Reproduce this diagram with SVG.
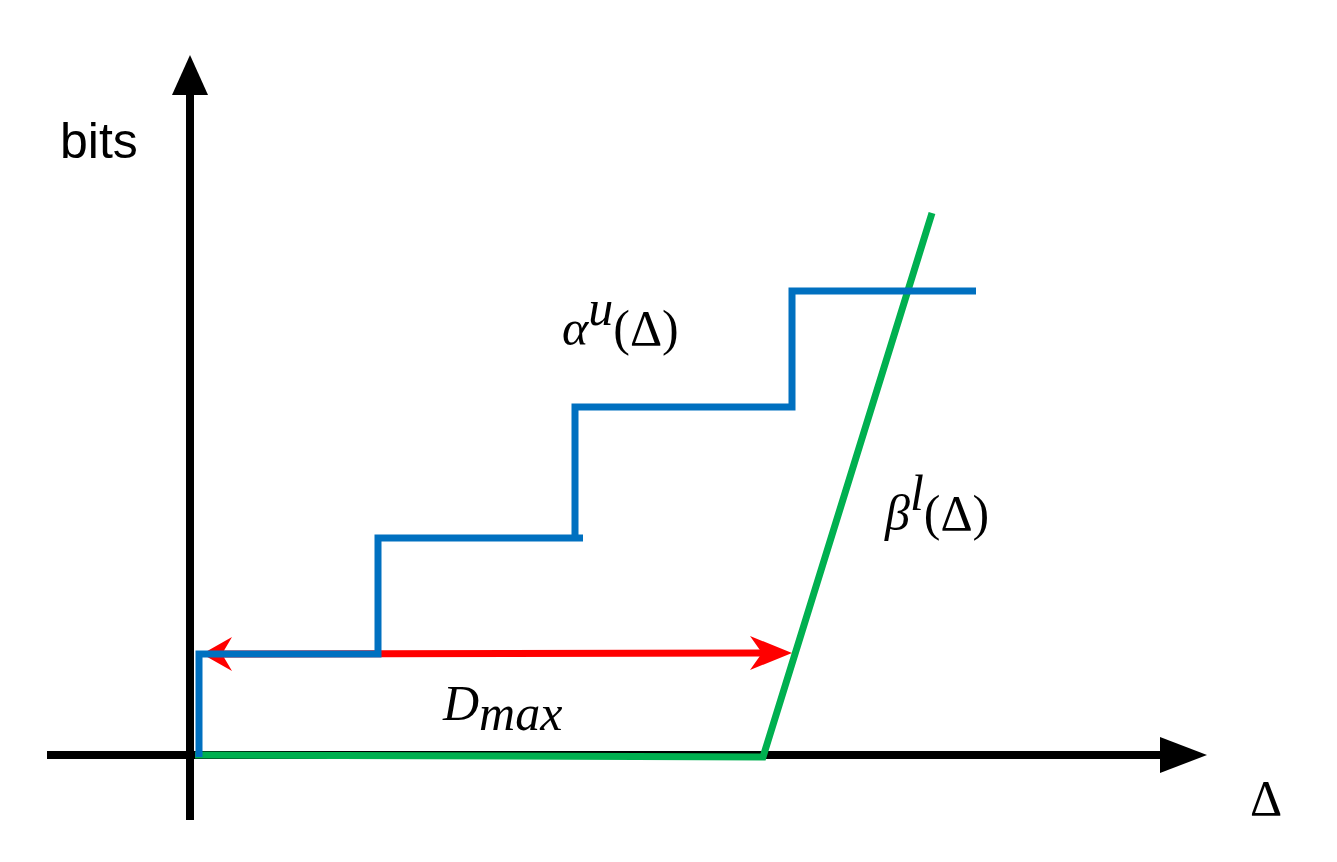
<svg xmlns="http://www.w3.org/2000/svg" width="1337" height="862" viewBox="0 0 1337 862">
<style>
.ax{stroke:#000;stroke-width:8;fill:none}
.bl{stroke:#0070C0;stroke-width:7;fill:none}
.gr{stroke:#00B050;stroke-width:7;fill:none}
.m{font-family:"Liberation Serif",serif;font-style:italic;font-size:50px;fill:#000}
.r{font-family:"Liberation Serif",serif;font-size:50px;fill:#000}
.s{font-family:"Liberation Sans",sans-serif;font-size:50px;fill:#000}
</style>
<g id="axes">
<line class="ax" x1="190" y1="820" x2="190" y2="90"/>
<polygon points="190,55 172,95 208,95" fill="#000"/>
<line class="ax" x1="47" y1="755" x2="1170" y2="755"/>
<polygon points="1207,755 1160,737 1160,773" fill="#000"/>
</g>
<g id="connectors">
<polyline class="gr" points="195,755 763,757 932,213"/>
<line x1="215" y1="654" x2="780" y2="653" stroke="#FF0000" stroke-width="7"/>
<polygon points="202,654 232,637 222,654 232,671" fill="#FF0000"/>
<polygon points="792,653 750,636 762,653 750,670" fill="#FF0000"/>
<polyline class="bl" points="199,757 199,654 378,654 378,538 583,538"/>
<polyline class="bl" points="575,538 575,407 792,407 792,291 976,291"/>
</g>
<g id="labels">
<text class="s" x="60" y="158">bits</text>
<text class="r" x="1250" y="815">Δ</text>
<text x="562" y="345"><tspan class="m">α</tspan><tspan class="m" font-size="36" dy="-20">u</tspan><tspan class="r" dy="20">(Δ)</tspan></text>
<text x="885" y="530"><tspan class="m">β</tspan><tspan class="m" font-size="36" dy="-20">l</tspan><tspan class="r" dy="20">(Δ)</tspan></text>
<text x="443" y="720"><tspan class="m">D</tspan><tspan class="m" font-size="38" dy="10">max</tspan></text>
</g>
</svg>
